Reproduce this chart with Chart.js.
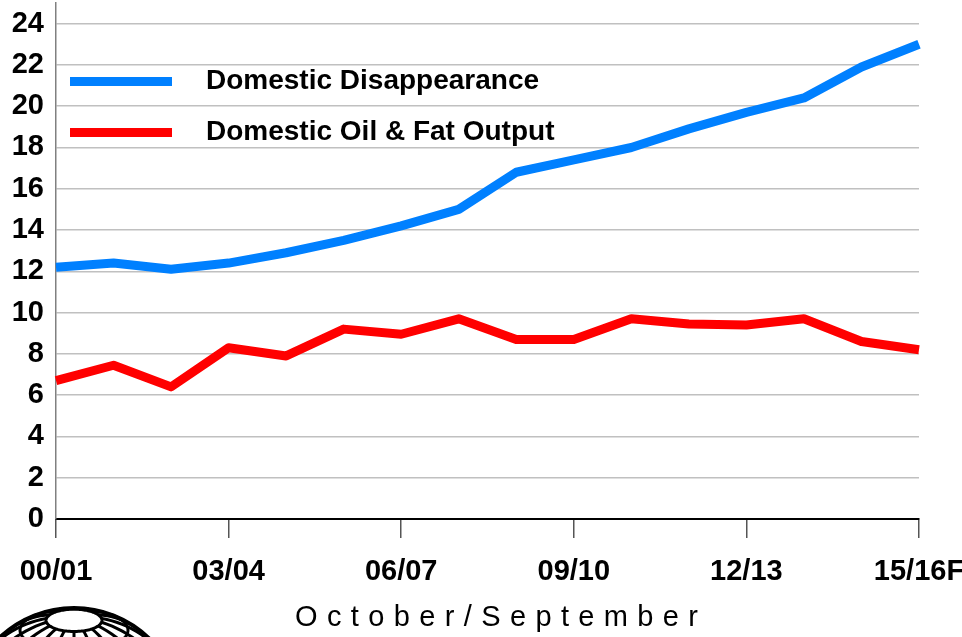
<!DOCTYPE html>
<html>
<head>
<meta charset="utf-8">
<script src="https://cdn.jsdelivr.net/npm/chart.js@4.4.1/dist/chart.umd.min.js"></script>
<style>
  html, body { margin: 0; padding: 0; background: #fff; }
  #wrap { width: 962px; height: 637px; position: relative; }
</style>
</head>
<body>
<div id="wrap"><canvas id="dataChart"></canvas></div>
<script>
const seasons = ['00/01', '01/02', '02/03', '03/04', '04/05', '05/06', '06/07', '07/08',
                 '08/09', '09/10', '10/11', '11/12', '12/13', '13/14', '14/15', '15/16F'];
const disappearance = [12.2, 12.4, 12.1, 12.4, 12.9, 13.5, 14.2, 15.0,
                       16.8, 17.4, 18.0, 18.9, 19.7, 20.4, 21.9, 23.0];
const oilFatOutput = [6.7, 7.45, 6.4, 8.3, 7.9, 9.2, 8.95, 9.7,
                      8.7, 8.7, 9.7, 9.45, 9.4, 9.7, 8.6, 8.2];
const yTickValues = [0, 2, 4, 6, 8, 10, 12, 14, 16, 18, 20, 22, 24];
const seriesNames = ['Domestic Disappearance', 'Domestic Oil & Fat Output'];
const axisTitle = 'October/September';

const FONT = '"Liberation Sans Narrow", "Arial Narrow", "Liberation Sans", Arial, sans-serif';

// legend drawn inside the plot, top-left
const insideLegend = {
    id: 'insideLegend',
    afterDraw(chart) {
        const ctx = chart.ctx;
        ctx.save();
        chart.data.datasets.forEach((ds, i) => {
            const y = 81.5 + i * 51;
            ctx.strokeStyle = ds.borderColor;
            ctx.lineWidth = 9;
            ctx.lineCap = 'butt';
            ctx.beginPath();
            ctx.moveTo(70, y);
            ctx.lineTo(172, y);
            ctx.stroke();
            ctx.fillStyle = '#000';
            ctx.font = 'bold 28px ' + FONT;
            ctx.textBaseline = 'middle';
            ctx.textAlign = 'left';
            ctx.fillText(ds.label, 206, y);
        });
        ctx.restore();
    }
};

// spaced-out x axis title
const spacedTitle = {
    id: 'spacedTitle',
    afterDraw(chart) {
        const ctx = chart.ctx;
        ctx.save();
        ctx.font = '29px ' + FONT;
        ctx.fillStyle = '#000';
        ctx.textBaseline = 'middle';
        ctx.textAlign = 'left';
        ctx.letterSpacing = '0px';
        const natural = ctx.measureText(axisTitle).width;
        const sp = (403 - natural) / (axisTitle.length - 1);
        ctx.letterSpacing = sp + 'px';
        ctx.fillText(axisTitle, 295, 618);
        ctx.restore();
    }
};

// wireframe globe logo, bottom-left corner
const globeLogo = {
    id: 'globeLogo',
    afterDraw(chart) {
        const ctx = chart.ctx;
        const cx = 74, cy = 716, R = 108, t = 23.5 * Math.PI / 180;
        const proj = (lat, lon) => {
            const x = Math.cos(lat) * Math.sin(lon);
            const y = Math.sin(lat);
            const z = Math.cos(lat) * Math.cos(lon);
            const y2 = y * Math.cos(t) - z * Math.sin(t);
            const z2 = y * Math.sin(t) + z * Math.cos(t);
            return { X: cx + R * x, Y: cy - R * y2, vis: z2 >= 0 };
        };
        const path = (pts) => {
            let pen = false;
            ctx.beginPath();
            pts.forEach(p => {
                if (p.vis) {
                    if (pen) ctx.lineTo(p.X, p.Y); else ctx.moveTo(p.X, p.Y);
                    pen = true;
                } else pen = false;
            });
            ctx.stroke();
        };
        ctx.save();
        ctx.strokeStyle = '#000';
        ctx.lineWidth = 3;
        const D = Math.PI / 180;
        for (let lat = -60; lat <= 75; lat += 15) {
            const pts = [];
            for (let lon = -180; lon <= 180; lon += 3) pts.push(proj(lat * D, lon * D));
            path(pts);
        }
        for (let lon = -180; lon < 180; lon += 20) {
            const pts = [];
            for (let lat = -90; lat <= 75; lat += 3) pts.push(proj(lat * D, lon * D));
            path(pts);
        }
        ctx.lineWidth = 4;
        ctx.beginPath();
        ctx.arc(cx, cy, R, 0, Math.PI * 2);
        ctx.stroke();
        ctx.restore();
    }
};

const config = {
    type: 'line',
    data: {
        labels: seasons,
        datasets: [
            { label: seriesNames[0], data: disappearance, borderColor: '#0080ff', backgroundColor: '#0080ff' },
            { label: seriesNames[1], data: oilFatOutput, borderColor: '#ff0000', backgroundColor: '#ff0000' }
        ]
    },
    options: {
        responsive: false,
        animation: false,
        devicePixelRatio: 1,
        layout: { padding: { top: 3, right: 43, left: 0, bottom: 0 } },
        elements: {
            line: { borderWidth: 9, tension: 0, borderJoinStyle: 'round', borderCapStyle: 'butt' },
            point: { radius: 0 }
        },
        plugins: {
            legend: { display: false },
            tooltip: { enabled: false }
        },
        scales: {
            x: {
                offset: false,
                grid: {
                    drawOnChartArea: false,
                    drawTicks: true,
                    tickLength: 19,
                    lineWidth: 1.5,
                    color: (c) => (c.index % 3 === 0 ? '#555555' : 'rgba(0,0,0,0)')
                },
                border: { color: '#000', width: 2 },
                ticks: {
                    autoSkip: false,
                    maxRotation: 0,
                    padding: 17,
                    color: '#000',
                    font: { family: FONT, size: 29, weight: 'bold' },
                    callback: function (v, i) { return i % 3 === 0 ? this.getLabelForValue(v) : ''; }
                },
                afterFit: (s) => { s.height = 118; s.paddingLeft = 0; s.paddingRight = 0; }
            },
            y: {
                min: 0,
                max: 25,
                grid: { drawTicks: false, color: '#c0c0c0', lineWidth: 1.5 },
                border: { color: '#808080', width: 1.5 },
                ticks: {
                    padding: 12,
                    color: '#000',
                    font: { family: FONT, size: 29, weight: 'bold' }
                },
                afterBuildTicks: (s) => { s.ticks = yTickValues.map(v => ({ value: v })); },
                afterFit: (s) => { s.width = 56; s.paddingTop = 0; s.paddingBottom = 0; }
            }
        }
    },
    plugins: [insideLegend, spacedTitle, globeLogo]
};

const canvas = document.getElementById('dataChart');
canvas.width = 962;
canvas.height = 637;
const dataChart = new Chart(canvas, config);
</script>
</body>
</html>
